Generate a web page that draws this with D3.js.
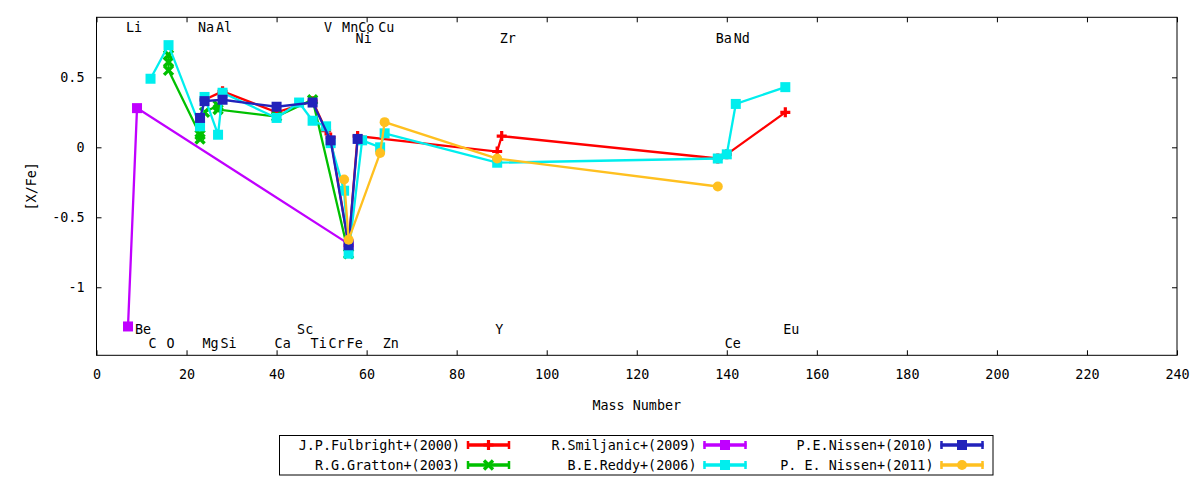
<!DOCTYPE html>
<html><head><meta charset="utf-8">
<script src="https://cdn.jsdelivr.net/npm/d3@7"></script>
<style>
body{margin:0;background:#fff}
text{font-family:"DejaVu Sans Mono",monospace;font-size:13.4px;fill:#000}
</style>
</head><body>
<svg id="c" width="1200" height="480"></svg>
<script>
// ---- data ----
const xTicks = [0,20,40,60,80,100,120,140,160,180,200,220,240];
const yTicks = [-1,-0.5,0,0.5];

// [mass number, [X/Fe]]
const fulbright2000 = [[24,0.34],[28,0.40],[40,0.25],[48,0.33],[51,0.12],[52,0.07],[56,-0.70],[58,0.08],[89,-0.03],[90,0.08],[138,-0.08],[140,-0.05],[153,0.25]];
const gratton2003   = [[16,0.66],[16,0.61],[16,0.55],[23,0.09],[23,0.06],[24,0.25],[27,0.30],[27,0.27],[40,0.22],[48,0.34],[56,-0.76]];
const smiljanic2009 = [[7,-1.28],[9,0.28],[56,-0.69]];
const reddy2006     = [[12,0.49],[16,0.73],[23,0.15],[24,0.36],[27,0.09],[28,0.39],[40,0.21],[45,0.32],[48,0.19],[51,0.15],[52,0.03],[55,-0.31],[56,-0.76],[59,0.05],[63,0.00],[64,0.10],[89,-0.11],[138,-0.08],[140,-0.05],[142,0.31],[153,0.43]];
const nissen2010    = [[23,0.21],[24,0.33],[28,0.34],[40,0.29],[48,0.32],[52,0.05],[56,-0.70],[58,0.06]];
const nissen2011    = [[55,-0.23],[56,-0.66],[63,-0.04],[64,0.18],[89,-0.08],[138,-0.28]];

const seriesNames  = ["J.P.Fulbright+(2000)","R.G.Gratton+(2003)","R.Smiljanic+(2009)","B.E.Reddy+(2006)","P.E.Nissen+(2010)","P. E. Nissen+(2011)"];
const seriesData   = [fulbright2000, gratton2003, smiljanic2009, reddy2006, nissen2010, nissen2011];
const seriesColors = ["#ff0000","#00c000","#c000ff","#00eeee","#2222bb","#ffc020"];
const seriesMarks  = ["plus","cross","square","square","square","circle"];

// element labels [symbol, mass number, [X/Fe] position]
const elementLabels = [
  ["Li",7,0.86],["Na",23,0.86],["Al",27,0.86],["V",51,0.86],["Mn",55,0.86],["Co",58.6,0.86],["Cu",63,0.86],
  ["Ni",58,0.78],["Zr",90,0.78],["Ba",138,0.78],["Nd",142,0.78],
  ["Be",9,-1.3],["Sc",45,-1.3],["Y",89,-1.3],["Eu",153,-1.3],
  ["C",12,-1.4],["O",16,-1.4],["Mg",24,-1.4],["Si",28,-1.4],["Ca",40,-1.4],["Ti",48,-1.4],["Cr",52,-1.4],["Fe",56,-1.4],["Zn",64,-1.4],["Ce",140,-1.4]
];

// ---- chart ----
const svg = d3.select("#c");
const L=96.5, R=1177, T=17.3, B=355.3;
const x = d3.scaleLinear().domain([0,240]).range([L,R]);
const y = d3.scaleLinear().domain([-1.486,0.929]).range([B,T]);

const fmt = d => String(d);
function styleAxis(g){ g.select(".domain").remove(); g.selectAll("line").attr("stroke","#000"); g.selectAll("text").attr("font-family",'"DejaVu Sans Mono",monospace').attr("font-size","13.4px").attr("fill","#000"); }
svg.append("g").attr("transform",`translate(0,${B})`).call(d3.axisBottom(x).tickValues(xTicks).tickFormat(fmt).tickSize(-5).tickPadding(14)).call(styleAxis);
svg.append("g").attr("transform",`translate(0,${T})`).call(d3.axisTop(x).tickValues(xTicks).tickFormat("").tickSize(-5)).call(styleAxis);
svg.append("g").attr("transform",`translate(${L},0)`).call(d3.axisLeft(y).tickValues(yTicks).tickFormat(fmt).tickSize(-5).tickPadding(12)).call(styleAxis);
svg.append("g").attr("transform",`translate(${R},0)`).call(d3.axisRight(y).tickValues(yTicks).tickFormat("").tickSize(-5)).call(styleAxis);
svg.append("rect").attr("x",L).attr("y",T).attr("width",R-L).attr("height",B-T).attr("fill","none").attr("stroke","#000").attr("stroke-width",1);

// axis titles
svg.append("text").attr("x",(L+R)/2).attr("y",410).attr("text-anchor","middle").text("Mass Number");
svg.append("text").attr("transform",`translate(36,${(T+B)/2}) rotate(-90)`).attr("text-anchor","middle").text("[X/Fe]");

// element labels
svg.append("g").selectAll("text").data(elementLabels).join("text")
  .attr("x",d=>x(d[1])-2).attr("y",d=>y(d[2])+4.8).attr("text-anchor","start").text(d=>d[0]);

function drawMark(g, type, cx, cy, color, s){
  if(type==="square"){
    g.append("rect").attr("x",cx-s/2).attr("y",cy-s/2).attr("width",s).attr("height",s).attr("fill",color);
  } else if(type==="circle"){
    g.append("circle").attr("cx",cx).attr("cy",cy).attr("r",s/2).attr("fill",color);
  } else if(type==="plus"){
    const h=s/2;
    g.append("path").attr("d",`M${cx-h},${cy}H${cx+h}M${cx},${cy-h}V${cy+h}`).attr("stroke",color).attr("stroke-width",3.2).attr("fill","none");
  } else if(type==="cross"){
    const h=s/2-0.5;
    g.append("path").attr("d",`M${cx-h},${cy-h}L${cx+h},${cy+h}M${cx-h},${cy+h}L${cx+h},${cy-h}`).attr("stroke",color).attr("stroke-width",3.4).attr("fill","none");
  }
}

const line = d3.line().x(d=>x(d[0])).y(d=>y(d[1]));
const plot = svg.append("g");
seriesData.forEach((data,i)=>{
  const g = plot.append("g");
  g.append("path").datum(data).attr("d",line).attr("fill","none").attr("stroke",seriesColors[i]).attr("stroke-width",2.3).attr("stroke-linejoin","miter");
  data.forEach(d=>drawMark(g, seriesMarks[i], x(d[0]), y(d[1]), seriesColors[i], 10));
});

// legend
const leg = svg.append("g");
leg.append("rect").attr("x",279.5).attr("y",435.5).attr("width",713.5).attr("height",39.5).attr("fill","#fff").attr("stroke","#000").attr("stroke-width",1);
const colTextEnd = [460,696.5,933.5];
const rowY = [445,465];
seriesNames.forEach((name,i)=>{
  const col = Math.floor(i/2), row = i%2;
  const te = colTextEnd[col], yy = rowY[row];
  leg.append("text").attr("x",te).attr("y",yy+4.8).attr("text-anchor","end").text(name);
  const x1 = te+7, x2 = te+50, c = seriesColors[i];
  leg.append("line").attr("x1",x1).attr("x2",x2).attr("y1",yy).attr("y2",yy).attr("stroke",c).attr("stroke-width",3.5);
  leg.append("line").attr("x1",x1+1).attr("x2",x1+1).attr("y1",yy-4).attr("y2",yy+4).attr("stroke",c).attr("stroke-width",2.5);
  leg.append("line").attr("x1",x2-1).attr("x2",x2-1).attr("y1",yy-4).attr("y2",yy+4).attr("stroke",c).attr("stroke-width",2.5);
  drawMark(leg, seriesMarks[i], (x1+x2)/2, yy, c, 10);
});
</script>
</body></html>
